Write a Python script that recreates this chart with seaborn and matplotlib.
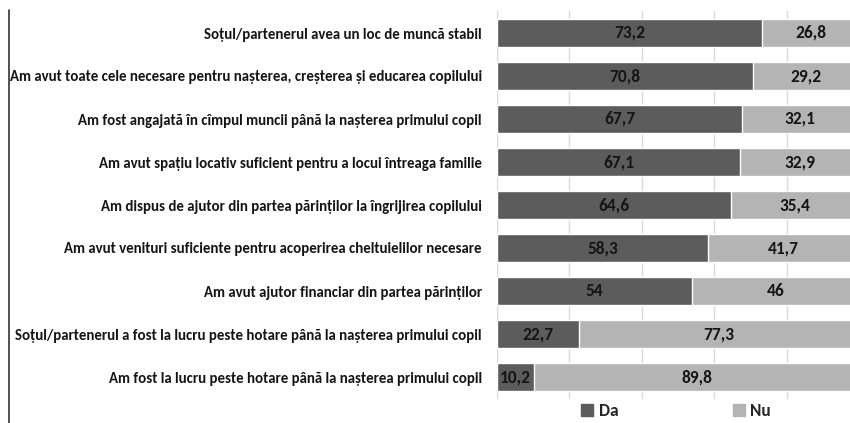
import matplotlib
matplotlib.use("Agg")
import numpy as np
import pandas as pd
import seaborn as sns
import matplotlib.pyplot as plt
from matplotlib.patches import Patch

categorii = [
    "Soțul/partenerul avea un loc de muncă stabil",
    "Am avut toate cele necesare pentru nașterea, creșterea și educarea copilului",
    "Am fost angajată în cîmpul muncii până la nașterea primului copil",
    "Am avut spațiu locativ suficient pentru a locui întreaga familie",
    "Am dispus de ajutor din partea părinților la îngrijirea copilului",
    "Am avut venituri suficiente pentru acoperirea cheltuielilor necesare",
    "Am avut ajutor financiar din partea părinților",
    "Soțul/partenerul a fost la lucru peste hotare până la nașterea primului copil",
    "Am fost la lucru peste hotare până la nașterea primului copil",
]
da = [73.2, 70.8, 67.7, 67.1, 64.6, 58.3, 54, 22.7, 10.2]
nu = [26.8, 29.2, 32.1, 32.9, 35.4, 41.7, 46, 77.3, 89.8]

c_da = "#5c5c5c"
c_nu = "#b4b4b4"

sns.set_style("white")
plt.rcParams["font.family"] = ["Carlito", "DejaVu Sans"]
plt.rcParams["font.weight"] = "bold"

df = pd.DataFrame({"cat": categorii, "da": da, "nu": nu})
df["total"] = df["da"] + df["nu"]

fig = plt.figure(figsize=(8.5, 4.23), dpi=100)
ax = fig.add_axes([497 / 850, 1 - 398.5 / 423, 362 / 850, 387 / 423])

sns.barplot(data=df, x="total", y="cat", color=c_nu, saturation=1, width=0.67, ax=ax, zorder=2)
sns.barplot(data=df, x="da", y="cat", color=c_da, saturation=1, width=0.67, ax=ax, zorder=3)

for i, (d, n) in enumerate(zip(da, nu)):
    ax.text(d / 2, i, f"{d:g}".replace(".", ","), ha="center", va="center",
            fontsize=12.5, color="#151515", fontweight="bold", zorder=4)
    ax.text(d + n / 2, i, f"{n:g}".replace(".", ","), ha="center", va="center",
            fontsize=12.5, color="#151515", fontweight="bold", zorder=4)

ax.set_xlim(0, 100)
ax.set_ylim(len(categorii) - 0.5, -0.5)
ax.set_xticks([0, 20, 40, 60, 80, 100])
ax.set_xticklabels([])
ax.tick_params(axis="both", length=0)
ax.grid(axis="x", color="#d9d9d9", linewidth=1, zorder=0)
ax.set_axisbelow(True)
for s in ax.spines.values():
    s.set_visible(False)
ax.set_xlabel("")
ax.set_ylabel("")
ax.set_yticks(range(len(categorii)))
ax.set_yticklabels(categorii, fontsize=10.7, color="#151515", fontweight="bold")
ax.tick_params(axis="y", pad=11)

# linia verticala din stanga
fig.add_artist(plt.Line2D([9 / 850, 9 / 850], [0, 1 - 10 / 423], color="#333333", linewidth=1.2))

handles = [Patch(color=c_da, label="Da"), Patch(color=c_nu, label="Nu")]
fig.legend(handles=handles, loc="center", bbox_to_anchor=(676 / 850, 1 - 411 / 423), ncol=2,
           frameon=False, handlelength=0.7, handleheight=0.7, handletextpad=0.3,
           columnspacing=6.6, prop={"size": 12.5, "weight": "bold"})

fig.savefig("out.png", dpi=100)
